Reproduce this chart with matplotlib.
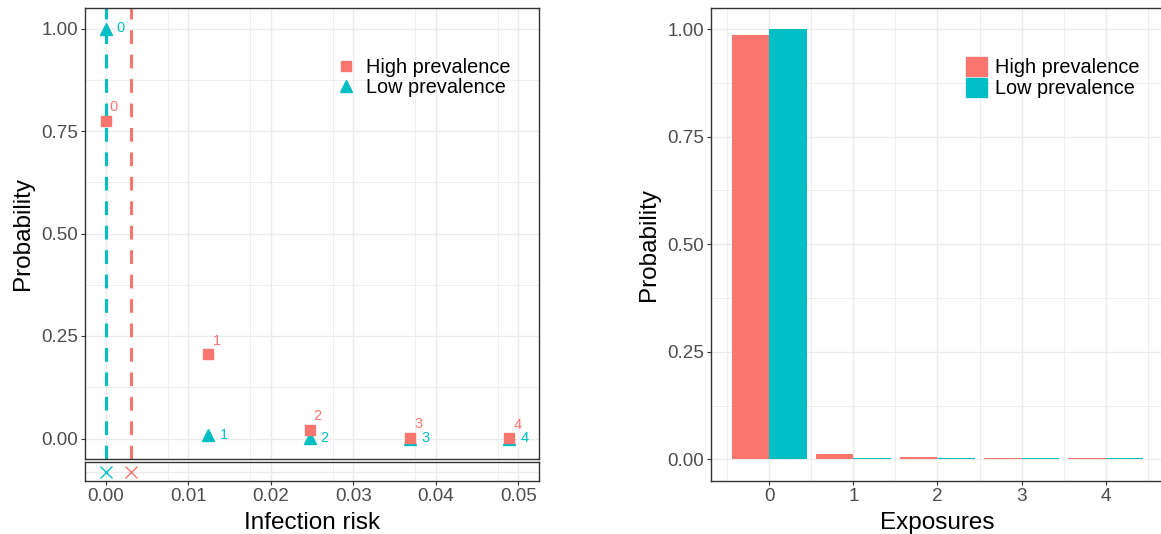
import numpy as np
import matplotlib
matplotlib.use("Agg")
import matplotlib.pyplot as plt
from matplotlib.lines import Line2D
from matplotlib.patches import Patch

plt.rcParams['font.family'] = ['Liberation Sans', 'DejaVu Sans']

RED = '#F8766D'
TEAL = '#00BFC4'
GRID = '#EBEBEB'
DARK = '#333333'
TICKC = '#4D4D4D'

# infection risk per number of exposures and its probability
exposures = [0, 1, 2, 3, 4]
risk = [0.0, 0.01245, 0.0247, 0.0369, 0.0489]
prob_high = [0.775, 0.205, 0.021, 0.0005, 0.0002]
prob_low = [1.0, 0.0075, 0.0003, 0.0, 0.0]

# distribution of exposures
exp_high = [0.986, 0.0135, 0.005, 0.003, 0.003]
exp_low = [1.0, 0.004, 0.003, 0.003, 0.003]

groups = ['High prevalence', 'Low prevalence']

mean_high = float(np.dot(risk, prob_high))
mean_low = float(np.dot(risk, prob_low))

W, H = 1161, 534
fig = plt.figure(figsize=(W / 100, H / 100), dpi=100)


def box(l, b, r, t):
    return [l / W, 1 - b / H, (r - l) / W, (b - t) / H]


def style(ax):
    ax.set_axisbelow(True)
    ax.grid(which='major', color=GRID, lw=1.0)
    ax.grid(which='minor', color=GRID, lw=0.55)
    for s in ax.spines.values():
        s.set_color(DARK)
        s.set_linewidth(1.0)
    ax.tick_params(which='major', length=3, width=0.8, color=DARK,
                   labelcolor=TICKC, labelsize=13.6, pad=2)
    ax.tick_params(which='minor', length=0)


# ---- left: infection risk ----
ax1 = fig.add_axes(box(85, 459, 539, 8))
strip = fig.add_axes(box(85, 481, 539, 462), sharex=ax1)
for a in (ax1, strip):
    style(a)

ax1.axvline(mean_low, color=TEAL, lw=2.2, ls=(0, (4.5, 3.5)), zorder=2)
ax1.axvline(mean_high, color=RED, lw=2.2, ls=(0, (4.5, 3.5)), zorder=2)
ax1.plot(risk, prob_low, '^', color=TEAL, ms=8.5, ls='none', zorder=3)
ax1.plot(risk, prob_high, 's', color=RED, ms=7.5, ls='none', zorder=4)

for x, y, n in zip(risk, prob_low, exposures):
    ax1.annotate(str(n), (x, y), xytext=(8, 0), textcoords='offset points',
                 color=TEAL, fontsize=10.5, va='center', ha='left')
for x, y, n in zip(risk, prob_high, exposures):
    ax1.annotate(str(n), (x, y), xytext=(3, 10), textcoords='offset points',
                 color=RED, fontsize=10.5, va='center', ha='left')

ax1.set_xlim(-0.0025, 0.0525)
ax1.set_ylim(-0.05, 1.05)
ax1.set_yticks([0, 0.25, 0.5, 0.75, 1.0])
ax1.set_yticklabels(['0.00', '0.25', '0.50', '0.75', '1.00'])
ax1.set_yticks([0.125, 0.375, 0.625, 0.875], minor=True)
ax1.set_xticks(np.arange(0.0025, 0.05, 0.005)[1::2], minor=True)
ax1.tick_params(axis='x', which='both', length=0, labelbottom=False)
ax1.set_ylabel('Probability', fontsize=17.5, labelpad=5)

ax1.legend(
    [Line2D([], [], marker='s', color=RED, ls='none', ms=7.5),
     Line2D([], [], marker='^', color=TEAL, ls='none', ms=8.5)],
    groups, loc='upper left', bbox_to_anchor=(0.552, 0.89),
    frameon=False, fontsize=14.3, handlelength=1.0, handletextpad=0.55,
    labelspacing=0.05, borderpad=0, borderaxespad=0)

strip.plot([mean_low], [0], 'x', color=TEAL, ms=8, mew=1.0)
strip.plot([mean_high], [0], 'x', color=RED, ms=8, mew=1.0)
strip.set_ylim(-1, 1)
strip.set_yticks([0])
strip.tick_params(axis='y', length=0, labelleft=False)
strip.set_xticks([0, 0.01, 0.02, 0.03, 0.04, 0.05])
strip.set_xticklabels(['0.00', '0.01', '0.02', '0.03', '0.04', '0.05'])
strip.set_xlabel('Infection risk', fontsize=17.5, labelpad=5)

# ---- right: exposures ----
ax2 = fig.add_axes(box(711, 481, 1164, 7.5))
style(ax2)
ax2.spines['right'].set_visible(False)
xs = np.array(exposures)
ax2.bar(xs - 0.225, exp_high, width=0.45, color=RED, zorder=2)
ax2.bar(xs + 0.225, exp_low, width=0.45, color=TEAL, zorder=2)
ax2.set_xlim(-0.695, 4.695)
ax2.set_ylim(-0.05, 1.05)
ax2.set_xticks(exposures)
ax2.set_xticks(np.arange(-0.5, 5, 1.0), minor=True)
ax2.set_yticks([0, 0.25, 0.5, 0.75, 1.0])
ax2.set_yticklabels(['0.00', '0.25', '0.50', '0.75', '1.00'])
ax2.set_yticks([0.125, 0.375, 0.625, 0.875], minor=True)
ax2.set_xlabel('Exposures', fontsize=17.5, labelpad=5)
ax2.set_ylabel('Probability', fontsize=17.5, labelpad=5)

ax2.legend([Patch(color=RED), Patch(color=TEAL)], groups,
           loc='upper left', bbox_to_anchor=(0.563, 0.895), frameon=False,
           fontsize=14.3, handlelength=1.05, handleheight=1.05,
           handletextpad=0.4, labelspacing=0.05, borderpad=0, borderaxespad=0)

fig.savefig('out.png', dpi=100)
